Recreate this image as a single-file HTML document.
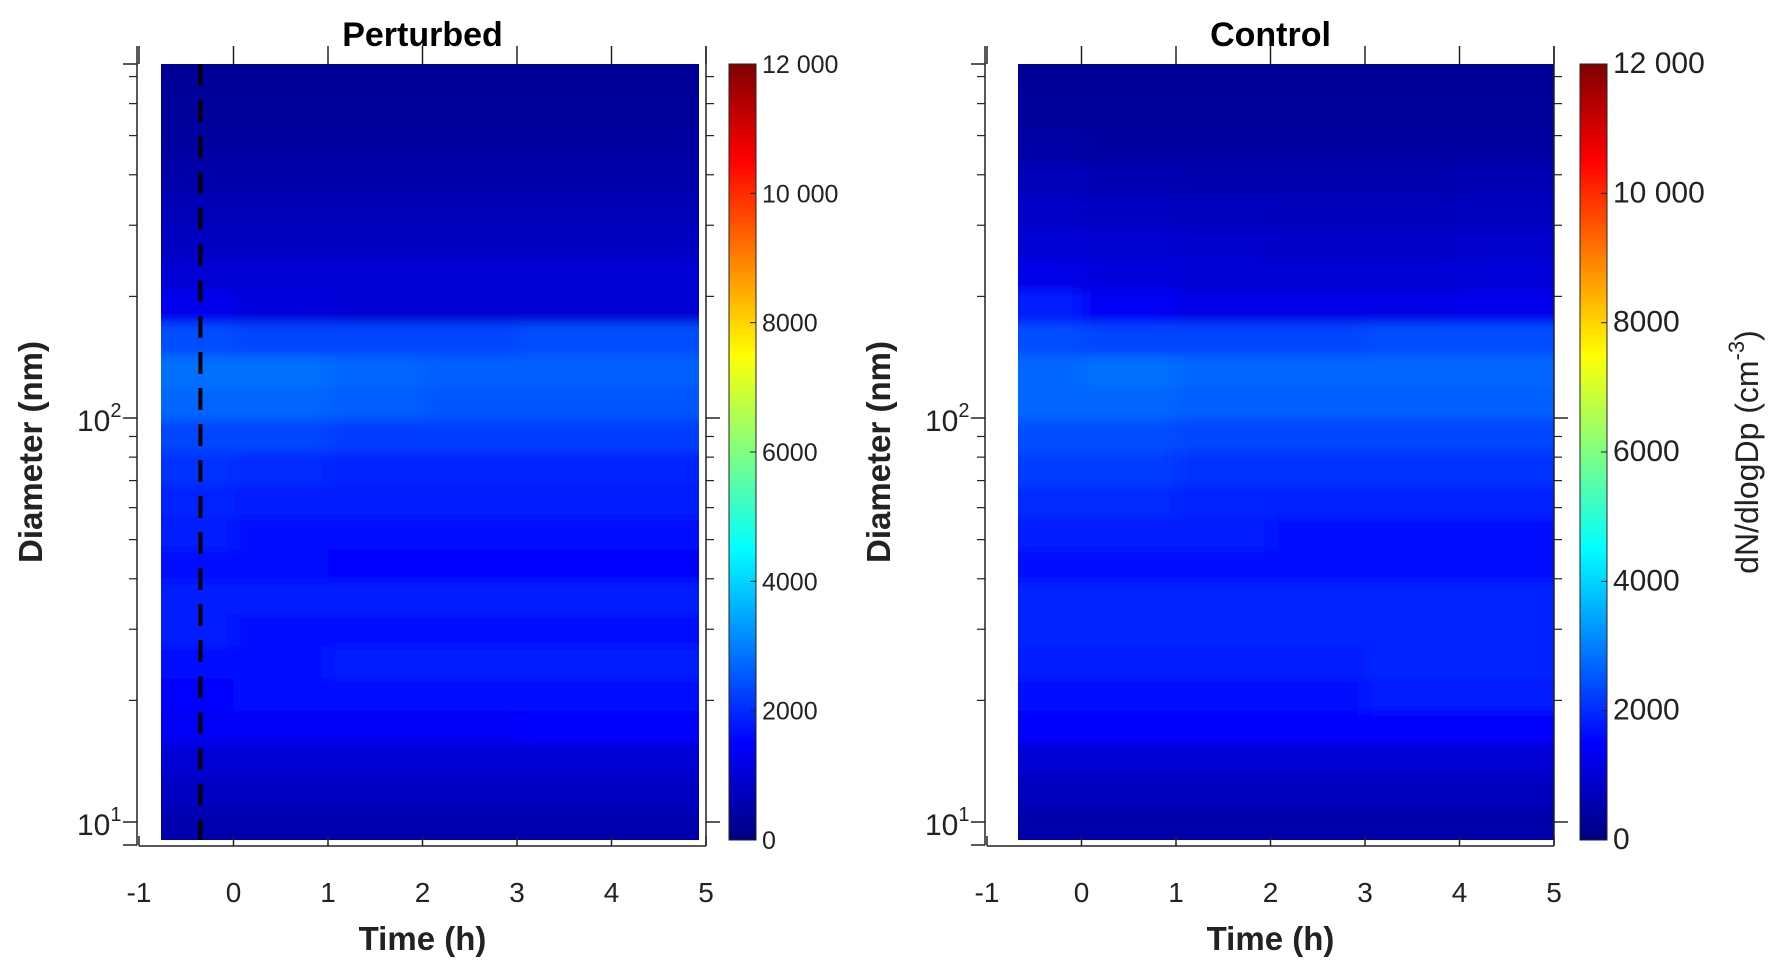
<!DOCTYPE html>
<html><head><meta charset="utf-8"><style>
html,body{margin:0;padding:0;background:#fff;}
svg{display:block;font-family:"Liberation Sans",Arial,sans-serif;}
</style></head><body>
<svg id="fig" width="1782" height="970" viewBox="0 0 1782 970" xmlns="http://www.w3.org/2000/svg">
<defs>
<linearGradient id="jet" x1="0" y1="1" x2="0" y2="0">
<stop offset="0" stop-color="#000080"/><stop offset="0.125" stop-color="#0000ff"/>
<stop offset="0.375" stop-color="#00ffff"/><stop offset="0.625" stop-color="#ffff00"/>
<stop offset="0.875" stop-color="#ff0000"/><stop offset="1" stop-color="#800000"/>
</linearGradient>
<filter id="soft" x="-5%" y="-5%" width="110%" height="110%"><feGaussianBlur stdDeviation="10 5"/></filter>
<clipPath id="clipP"><rect x="161" y="64" width="538" height="776"/></clipPath>
<clipPath id="clipC"><rect x="1018" y="64" width="536" height="776"/></clipPath>
</defs>
</svg>
<script>
// Data: rows top (large diameter) -> bottom (small), columns = time segments
const timeEdges = [-0.75, 0, 1, 2, 3, 4, 4.9];
const timeEdgesControl = [-0.68, 0, 1, 2, 3, 4, 5];
const diamTop = 750, diamBottom = 9;
const perturbed = [
[300,300,300,300,300,300],[350,350,350,350,350,350],[400,400,400,400,400,400],
[500,500,500,500,500,500],[650,650,650,650,650,650],[800,800,800,800,800,800],
[1000,1000,1000,1000,1000,1000],[1300,1100,1000,1000,1000,1000],
[2400,2300,2300,2300,2400,2400],[2800,2800,2700,2600,2600,2600],
[2700,2700,2600,2500,2500,2500],[2300,2300,2200,2200,2200,2200],
[2100,2000,1900,1900,1900,1900],[1900,1800,1800,1800,1800,1800],
[1800,1700,1700,1700,1700,1700],[1700,1600,1500,1500,1500,1500],
[1800,1800,1800,1800,1800,1800],[1800,1700,1700,1700,1700,1700],
[1600,1700,1800,1800,1800,1800],[1500,1600,1700,1700,1700,1700],
[1400,1400,1400,1400,1500,1500],[1000,1000,1000,1000,1000,1000],
[800,800,800,800,800,800],[550,550,550,550,550,550]];
const control = [
[300,300,300,300,300,300],[350,350,350,350,350,350],[450,400,400,400,400,400],
[650,600,550,550,550,600],[850,800,750,700,700,750],[1000,950,900,850,850,900],
[1200,1100,1000,1000,1000,1050],[1800,1400,1200,1200,1200,1300],
[2400,2300,2300,2300,2400,2400],[2700,2800,2700,2700,2700,2700],
[2700,2700,2600,2600,2600,2600],[2400,2400,2300,2300,2300,2300],
[2200,2200,2100,2100,2100,2100],[2000,2000,1900,1900,1900,1900],
[1800,1800,1800,1700,1700,1700],[1700,1700,1600,1600,1600,1600],
[1900,1900,1900,1900,1900,1900],[1900,1900,1900,1900,1900,1900],
[1800,1800,1800,1800,1900,1900],[1700,1700,1700,1700,1800,1800],
[1500,1500,1500,1500,1500,1500],[1000,1000,1000,1000,1000,1000],
[750,750,750,750,750,750],[500,500,500,500,500,500]];
const xTicks = [-1,0,1,2,3,4,5];
const cbTicks = [0,2000,4000,6000,8000,10000,12000];
const cbLabels = ["0","2000","4000","6000","8000","10 000","12 000"];
const yMinor = [20,30,40,50,60,70,80,90,200,300,400,500,600,700];
const dashTime = -0.35;

const svg = document.getElementById('fig');
const NS = 'http://www.w3.org/2000/svg';
function mk(tag, attrs, parent){const e=document.createElementNS(NS,tag);for(const k in attrs)e.setAttribute(k,attrs[k]);(parent||svg).appendChild(e);return e;}
function jet(v){let t=Math.max(0,Math.min(1,v/12000));
 const c=x=>Math.max(0,Math.min(1,x));
 const r=c(1.5-Math.abs(4*t-3)),g=c(1.5-Math.abs(4*t-2)),b=c(1.5-Math.abs(4*t-1));
 return `rgb(${Math.round(r*255)},${Math.round(g*255)},${Math.round(b*255)})`;}
const yTop=64, yBot=840, y100=418, decade=404;
function yS(d){return y100-(Math.log10(d)-2)*decade;}

function panel(o){
 const xS=t=>o.x0+(t+1)*(o.x5-o.x0)/6;
 const g=mk('g',{'clip-path':`url(#${o.clip})`});
 
 
 const bg=mk('g',{filter:'url(#soft)'},g);
 const n=o.data.length;
 const lt=Math.log10(diamTop), lb=Math.log10(diamBottom);
 o.data.forEach((row,i)=>{
  const d1=Math.pow(10,lt-(lt-lb)*i/n), d2=Math.pow(10,lt-(lt-lb)*(i+1)/n);
  row.forEach((v,j)=>{
   const xa=xS(o.te[j]), xb=xS(o.te[j+1]);
   let ya=yS(d1), yb=yS(d2);
   if(i==0) ya-=30;
   if(i==n-1) yb+=30;
   let x1=xa, x2=xb;
   if(j==0) x1-=30;
   if(j==row.length-1) x2+=30;
   const r=mk('rect',{x:x1,y:ya,width:(x2-x1)+0.5,height:(yb-ya)+0.5,fill:jet(v)},bg);
   
   
  });
 });
 // left axis
 const ax=o.x0-2;
 mk('line',{x1:ax,y1:46,x2:ax,y2:yBot+5,stroke:'#222','stroke-width':1.5});
 mk('line',{x1:o.x5,y1:46,x2:o.x5,y2:yBot+5,stroke:'#222','stroke-width':1.5});
 [10,100].forEach(d=>{mk('line',{x1:ax-14,y1:yS(d),x2:ax,y2:yS(d),stroke:'#222','stroke-width':1.5});
  mk('line',{x1:o.x5,y1:yS(d),x2:o.x5+14,y2:yS(d),stroke:'#222','stroke-width':1.5});});
 yMinor.forEach(d=>{mk('line',{x1:ax-8,y1:yS(d),x2:ax,y2:yS(d),stroke:'#222','stroke-width':1.2});
  mk('line',{x1:o.x5,y1:yS(d),x2:o.x5+8,y2:yS(d),stroke:'#222','stroke-width':1.2});});
 mk('line',{x1:ax-14,y1:yBot+5,x2:ax,y2:yBot+5,stroke:'#222','stroke-width':1.5});
 mk('line',{x1:ax-14,y1:yTop,x2:ax,y2:yTop,stroke:'#222','stroke-width':1.5});
 const yl=[['10','2',100],['10','1',10]];
 yl.forEach(([b,s,d])=>{const t=mk('text',{x:ax-60,y:yS(d)+13,'font-size':30,fill:'#222'});t.textContent=b;
  const sp=mk('tspan',{dy:-14,'font-size':20},t);sp.textContent=s;
  });
 // x axis
 mk('line',{x1:xS(-1),y1:yBot+6,x2:xS(5),y2:yBot+6,stroke:'#222','stroke-width':1.5});
 xTicks.forEach(t=>{const x=xS(t);
  mk('line',{x1:x,y1:yBot+6,x2:x,y2:yBot-4,stroke:'#222','stroke-width':1.5});
  mk('line',{x1:x,y1:46,x2:x,y2:yTop,stroke:'#222','stroke-width':1.5});
  const tx=mk('text',{x:x,y:902,'font-size':28,'text-anchor':'middle',fill:'#222'});tx.textContent=String(t);
  });
 if(o.dash!==undefined){const l=mk('line',{x1:xS(o.dash),y1:yTop,x2:xS(o.dash),y2:yBot,stroke:'#000','stroke-width':4,'stroke-dasharray':'22 14'});
  }
 const ti=mk('text',{x:(xS(-1)+xS(5))/2,y:46,'font-size':34,'font-weight':'bold','text-anchor':'middle',fill:'#000'});ti.textContent=o.title;
 
 const xl=mk('text',{x:(xS(-1)+xS(5))/2,y:950,'font-size':33,'font-weight':'bold','text-anchor':'middle',fill:'#222'});xl.textContent='Time (h)';
 
 const yt=mk('text',{x:0,y:0,'font-size':33,'font-weight':'bold','text-anchor':'middle',fill:'#222',transform:`translate(${o.ylx},452) rotate(-90)`});yt.textContent='Diameter (nm)';
 
 // colorbar
 const cb=mk('rect',{x:o.cbx,y:yTop,width:27,height:yBot-yTop,fill:'url(#jet)',stroke:'#222','stroke-width':1});
 
 cbTicks.forEach((v,i)=>{const y=yBot-(yBot-yTop)*v/12000;
  mk('line',{x1:o.cbx+27,y1:y,x2:o.cbx+21,y2:y,stroke:'#222','stroke-width':1});
  const t=mk('text',{x:o.cbx+33,y:y+9,'font-size':o.cbfs,fill:'#222'});t.textContent=cbLabels[i];
  });
}
panel({name:'perturbed',title:'Perturbed',x0:139,x5:706,te:timeEdges,data:perturbed,clip:'clipP',dash:dashTime,cbx:729,cbfs:25,ylx:42});
panel({name:'control',title:'Control',x0:987,x5:1554,te:timeEdgesControl,data:control,clip:'clipC',cbx:1580,cbfs:30,ylx:890});
const cbt=mk('text',{x:0,y:0,'font-size':32,'text-anchor':'middle',fill:'#222',transform:'translate(1758,452) rotate(-90)'});
cbt.textContent='dN/dlogDp (cm';
const sup=mk('tspan',{dy:-14,'font-size':22},cbt);sup.textContent='-3';
const cl=mk('tspan',{dy:14},cbt);cl.textContent=')';


</script>
</body></html>
